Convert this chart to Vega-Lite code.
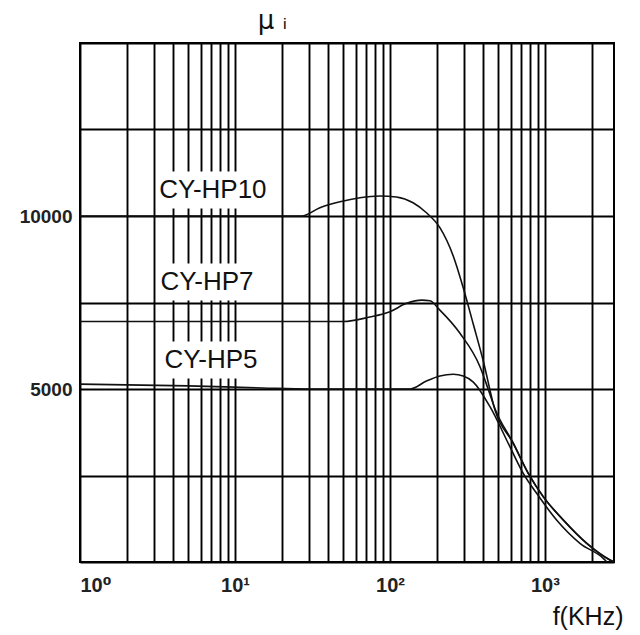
{
  "$schema": "https://vega.github.io/schema/vega-lite/v6.json",
  "autosize": {"type": "none"},
  "padding": {"left": 80, "top": 43, "right": 26, "bottom": 73},
  "width": 534,
  "height": 519,
  "background": "white",
  "config": {
    "view": {"stroke": "black", "strokeWidth": 2},
    "axis": {
      "grid": true,
      "gridColor": "#000",
      "gridWidth": 1.9,
      "gridOpacity": 1,
      "ticks": false,
      "tickSize": 0,
      "domain": false,
      "labelFont": "Liberation Sans, DejaVu Sans",
      "labelFontWeight": "bold",
      "labelFontSize": 19,
      "labelColor": "#222",
      "labelOverlap": false
    }
  },
  "datasets": {
    "curves": [
      {"series": "CY-HP10", "f": 1, "v": 10000},
      {"series": "CY-HP10", "f": 27, "v": 10000},
      {"series": "CY-HP10", "f": 35.3, "v": 10240},
      {"series": "CY-HP10", "f": 47.6, "v": 10413},
      {"series": "CY-HP10", "f": 64, "v": 10529},
      {"series": "CY-HP10", "f": 86, "v": 10578},
      {"series": "CY-HP10", "f": 110, "v": 10549},
      {"series": "CY-HP10", "f": 141, "v": 10384},
      {"series": "CY-HP10", "f": 172, "v": 10095},
      {"series": "CY-HP10", "f": 210, "v": 9662},
      {"series": "CY-HP10", "f": 256, "v": 8844},
      {"series": "CY-HP10", "f": 297, "v": 7928},
      {"series": "CY-HP10", "f": 345, "v": 6870},
      {"series": "CY-HP10", "f": 400, "v": 5809},
      {"series": "CY-HP10", "f": 476, "v": 4393},
      {"series": "CY-HP10", "f": 624, "v": 3431},
      {"series": "CY-HP10", "f": 780, "v": 2564},
      {"series": "CY-HP10", "f": 975, "v": 1887},
      {"series": "CY-HP10", "f": 1312, "v": 1214},
      {"series": "CY-HP10", "f": 1858, "v": 540},
      {"series": "CY-HP10", "f": 2627, "v": 58},
      {"series": "CY-HP10", "f": 2790, "v": 0},
      {"series": "CY-HP7", "f": 1, "v": 6950},
      {"series": "CY-HP7", "f": 50, "v": 6950},
      {"series": "CY-HP7", "f": 74, "v": 7080},
      {"series": "CY-HP7", "f": 100, "v": 7235},
      {"series": "CY-HP7", "f": 128, "v": 7475},
      {"series": "CY-HP7", "f": 160, "v": 7570},
      {"series": "CY-HP7", "f": 181, "v": 7550},
      {"series": "CY-HP7", "f": 210, "v": 7280},
      {"series": "CY-HP7", "f": 283, "v": 6610},
      {"series": "CY-HP7", "f": 381, "v": 5645},
      {"series": "CY-HP7", "f": 430, "v": 5000},
      {"series": "CY-HP7", "f": 476, "v": 4430},
      {"series": "CY-HP7", "f": 624, "v": 3440},
      {"series": "CY-HP7", "f": 780, "v": 2570},
      {"series": "CY-HP7", "f": 975, "v": 1890},
      {"series": "CY-HP7", "f": 1312, "v": 1218},
      {"series": "CY-HP7", "f": 1858, "v": 544},
      {"series": "CY-HP7", "f": 2627, "v": 60},
      {"series": "CY-HP7", "f": 2790, "v": 0},
      {"series": "CY-HP5", "f": 1, "v": 5140},
      {"series": "CY-HP5", "f": 5, "v": 5090},
      {"series": "CY-HP5", "f": 15, "v": 5030},
      {"series": "CY-HP5", "f": 30, "v": 5000},
      {"series": "CY-HP5", "f": 135, "v": 5000},
      {"series": "CY-HP5", "f": 172, "v": 5230},
      {"series": "CY-HP5", "f": 210, "v": 5375},
      {"series": "CY-HP5", "f": 256, "v": 5425},
      {"series": "CY-HP5", "f": 297, "v": 5375},
      {"series": "CY-HP5", "f": 345, "v": 5200},
      {"series": "CY-HP5", "f": 442, "v": 4488},
      {"series": "CY-HP5", "f": 594, "v": 3332},
      {"series": "CY-HP5", "f": 724, "v": 2564},
      {"series": "CY-HP5", "f": 884, "v": 1986},
      {"series": "CY-HP5", "f": 1189, "v": 1214},
      {"series": "CY-HP5", "f": 1682, "v": 540},
      {"series": "CY-HP5", "f": 2378, "v": 107},
      {"series": "CY-HP5", "f": 2512, "v": 0}
    ],
    "labels": [
      {"label": "CY-HP10", "f": 7.2, "v": 10750},
      {"label": "CY-HP7", "f": 6.6, "v": 8090},
      {"label": "CY-HP5", "f": 7.0, "v": 5840}
    ]
  },
  "encoding": {
    "x": {
      "field": "f",
      "type": "quantitative",
      "scale": {"type": "log", "domain": [1, 2790], "nice": false},
      "axis": {
        "values": [1,2,3,4,5,6,7,8,9,10,20,30,40,50,60,70,80,90,100,200,300,400,500,600,700,800,900,1000,2000],
        "labelExpr": "datum.value==1?'10⁰':datum.value==10?'10¹':datum.value==100?'10²':datum.value==1000?'10³':''",
        "labelFlush": true,
        "labelPadding": 13,
        "labelFontSize": 20,
        "title": "f(KHz)",
        "titleFont": "Liberation Sans",
        "titleFontSize": 25,
        "titleFontWeight": "normal",
        "titleColor": "#111",
        "titleAnchor": "end",
        "titleAlign": "right",
        "titleBaseline": "alphabetic",
        "titleX": 543,
        "titleY": 62
      }
    },
    "y": {
      "field": "v",
      "type": "quantitative",
      "scale": {"domain": [0, 15000], "nice": false},
      "axis": {
        "values": [0, 2500, 5000, 7500, 10000, 12500, 15000],
        "format": "d",
        "labelExpr": "datum.value==5000||datum.value==10000?datum.label:''",
        "labelPadding": 8,
        "title": "μ ᵢ",
        "titleFont": "DejaVu Sans",
        "titleFontSize": 26,
        "titleFontWeight": "normal",
        "titleColor": "#111",
        "titleAngle": 0,
        "titleAlign": "center",
        "titleBaseline": "alphabetic",
        "titleX": 192,
        "titleY": -15
      }
    }
  },
  "layer": [
    {
      "data": {"name": "labels"},
      "mark": {"type": "point", "shape": "M-1,-0.37H1V0.37H-1Z", "size": 10000, "filled": true, "color": "white", "opacity": 1, "strokeWidth": 0}
    },
    {
      "data": {"name": "labels"},
      "mark": {"type": "text", "font": "Liberation Sans", "fontSize": 26, "color": "#111", "align": "center", "baseline": "middle"},
      "encoding": {"text": {"field": "label"}}
    },
    {
      "data": {"name": "curves"},
      "mark": {"type": "line", "interpolate": "monotone", "color": "#111", "strokeWidth": 1.6, "clip": true},
      "encoding": {"detail": {"field": "series"}}
    }
  ]
}
